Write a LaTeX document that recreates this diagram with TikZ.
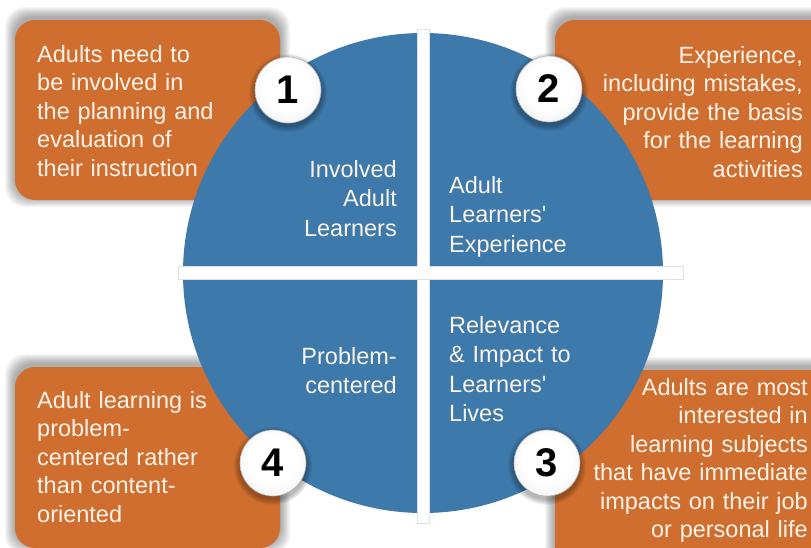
\documentclass[tikz,border=0pt]{standalone}
\usepackage{fontspec}
\setmainfont{Liberation Sans}
\definecolor{pieblue}{HTML}{3D79AB}
\definecolor{boxorange}{HTML}{CF6E2E}
\definecolor{txtcream}{HTML}{FAF3EA}
\pgfdeclareradialshading{ballshade}{\pgfpoint{0bp}{4bp}}{color(0bp)=(white); color(18bp)=(white); color(40bp)=(black!10); color(50bp)=(black!28)}
\tikzset{
  bodytext/.style={text=txtcream, font=\fontsize{23.5}{28.5}\selectfont, inner sep=0pt, text width=270pt},
  leftblock/.style={bodytext, align=left, anchor=base west},
  rightblock/.style={bodytext, align=right, anchor=base east},
  quadtext/.style={bodytext, font=\fontsize{23.5}{29.5}\selectfont},
  quadleft/.style={quadtext, align=left, anchor=base west},
  quadright/.style={quadtext, align=right, anchor=base east},
  numball/.style={circle, minimum size=66pt, inner sep=0pt, shading=ballshade, draw=black!30, line width=0.6pt, font=\fontsize{40}{40}\selectfont\bfseries},
  orangebox/.style={fill=boxorange, rounded corners=20pt},
  crossbar/.style={fill=white, draw=black!12, line width=0.5pt}
}
\newcommand{\boxhalo}[4]{%
  \foreach \i in {1,...,10}{%
    \fill[black, opacity=0.035, rounded corners=20pt] (#1-\i, #2-\i-3) rectangle (#3+\i, #4+\i-3);
  }%
}
\newcommand{\ballhalo}[2]{%
  \foreach \i in {1,...,6}{%
    \fill[black, opacity=0.05] (#1, #2+3) circle (33+\i);
  }%
}
\begin{document}
\begin{tikzpicture}[x=1pt,y=-1pt]
\useasboundingbox (0,0) rectangle (811,547);
\clip (0,0) rectangle (811,547);
\fill[white] (0,0) rectangle (811,547);
% orange boxes with soft shadows
\boxhalo{15}{20}{280}{200}
\boxhalo{555}{20}{850}{200}
\boxhalo{15}{367}{280}{548}
\boxhalo{555}{370}{850}{600}
\fill[orangebox] (15,20) rectangle (280,200);
\fill[orangebox] (555,20) rectangle (850,200);
\fill[orangebox] (15,367) rectangle (280,548);
\fill[orangebox] (555,370) rectangle (850,600);
% pie
\fill[pieblue] (423,273) circle (240);
\draw[crossbar] (417,29) rectangle (429,523);
\draw[crossbar] (178,266) rectangle (683,279);
\fill[white] (417.3,266.3) rectangle (428.7,278.7);
% box texts
\node[leftblock] (t1) at (37,62) {Adults need to\\be involved in\\the planning and\\evaluation of\\their instruction};
\node[rightblock] (t2) at (803,63) {Experience,\\including mistakes,\\provide the basis\\for the learning\\activities};
\node[rightblock] (t3) at (808,395) {Adults are most\\interested in\\learning subjects\\that have immediate\\impacts on their job\\or personal life};
\node[leftblock] (t4) at (37,408) {Adult learning is\\problem-\\centered rather\\than content-\\oriented};
% quadrant texts
\node[quadright] (q1) at (397,177) {Involved\hspace*{9pt}\\Adult\\Learners};
\node[quadleft] (q2) at (449,193) {Adult\\Learners\textquotesingle\\Experience};
\node[quadleft] (q3) at (449,333) {Relevance\\\& Impact to\\Learners\textquotesingle\\Lives};
\node[quadright] (q4) at (397,364) {Problem-\\centered};
% number balls
\ballhalo{288}{90}
\ballhalo{549}{89}
\ballhalo{547}{463}
\ballhalo{273}{463}
\node[numball] (n1) at (288,90) {1};
\node[numball] (n2) at (549,89) {2};
\node[numball] (n3) at (547,463) {3};
\node[numball] (n4) at (273,463) {4};
\end{tikzpicture}
\end{document}
